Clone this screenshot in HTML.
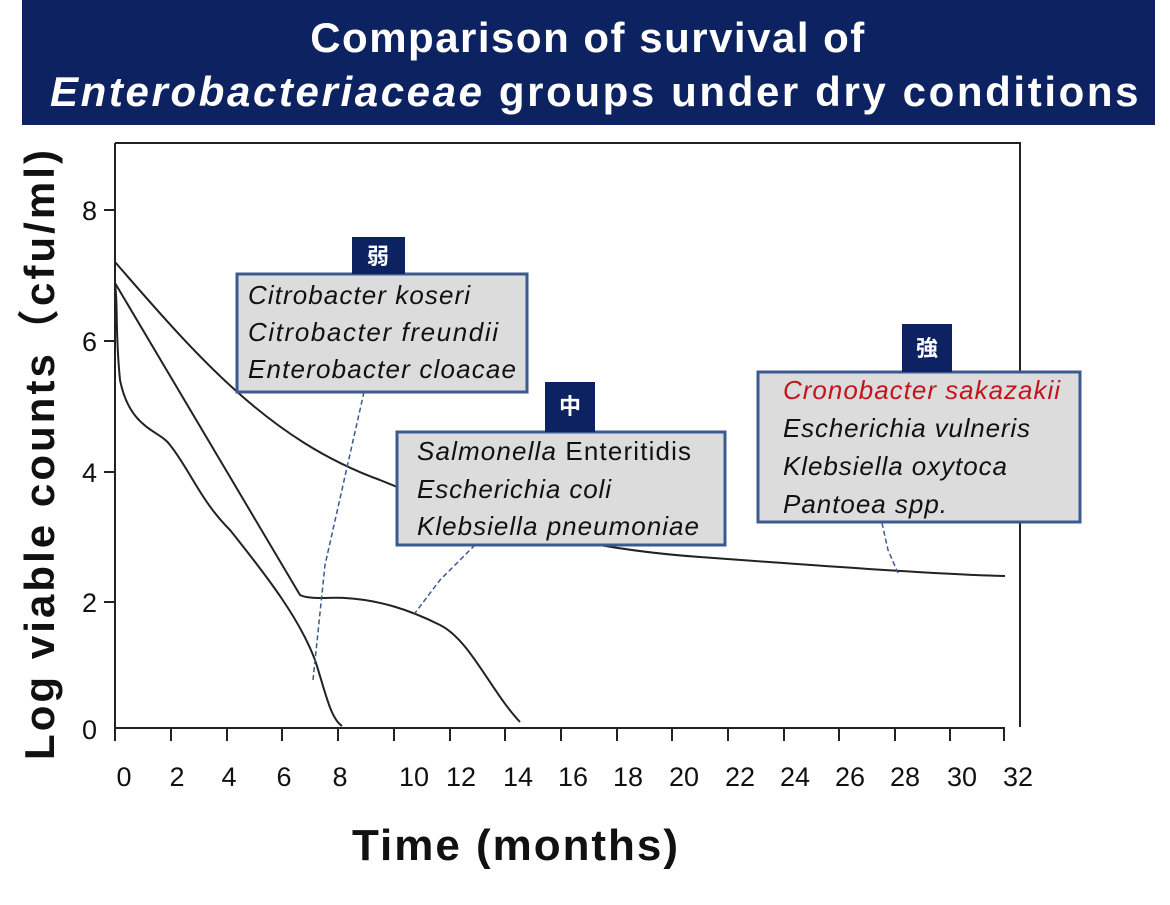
<!DOCTYPE html>
<html><head><meta charset="utf-8"><style>
html,body{margin:0;padding:0;background:#fff;}
</style></head><body>
<svg width="1170" height="900" viewBox="0 0 1170 900" xmlns="http://www.w3.org/2000/svg" font-family="'Liberation Sans','Noto Sans CJK JP',sans-serif">
<rect x="22" y="0" width="1133" height="125" fill="#0d2260"/>
<text x="588" y="52" text-anchor="middle" fill="#fff" font-size="42" font-weight="bold" letter-spacing="1.5">Comparison of survival of</text>
<text x="595" y="106" text-anchor="middle" fill="#fff" font-size="42" font-weight="bold" letter-spacing="1.5" textLength="1090"><tspan font-style="italic">Enterobacteriaceae</tspan> groups under dry conditions</text>
<g stroke="#222" stroke-width="2" fill="none">
<path d="M115 143 H1020 V727"/>
<path d="M115 143 V728 H1005"/>
<path d="M104 210H115M104 341H115M104 472H115M104 602H115"/>
<path d="M115 728v13M171 728v13M227 728v13M282 728v13M338 728v13M394 728v13M450 728v13M505 728v13M561 728v13M617 728v13M672 728v13M728 728v13M784 728v13M839 728v13M895 728v13M950 728v13M1004 728v13"/>
</g>
<g font-size="27" fill="#111" text-anchor="middle">
<text x="97" y="220" text-anchor="end">8</text><text x="97" y="351" text-anchor="end">6</text><text x="97" y="482" text-anchor="end">4</text><text x="97" y="612" text-anchor="end">2</text><text x="97" y="739" text-anchor="end">0</text>
<text x="124" y="786">0</text><text x="177" y="786">2</text><text x="229" y="786">4</text><text x="284" y="786">6</text><text x="340" y="786">8</text><text x="414" y="786">10</text><text x="461" y="786">12</text><text x="518" y="786">14</text><text x="573" y="786">16</text><text x="628" y="786">18</text><text x="684" y="786">20</text><text x="740" y="786">22</text><text x="795" y="786">24</text><text x="850" y="786">26</text><text x="905" y="786">28</text><text x="962" y="786">30</text><text x="1018" y="786">32</text>
</g>
<text x="515" y="860" text-anchor="middle" font-size="44" font-weight="bold" fill="#111" textLength="326">Time (months)</text>
<text transform="translate(54,455) rotate(-90)" text-anchor="middle" font-size="42" font-weight="bold" fill="#111" textLength="610">Log viable counts（cfu/ml)</text>
<g stroke="#222" stroke-width="2" fill="none">
<path d="M115 262 C200 360 270 440 380 480 C500 530 600 550 700 557 C850 568 950 575 1005 576"/>
<path d="M115 283 L300 595 C310 600 330 597 345 598 C380 600 410 610 440 625 C470 640 490 690 520 722"/>
<path d="M115 285 C118 300 115 330 120 380 C130 430 160 430 170 445 C190 470 200 500 230 530 C270 580 300 620 315 660 C325 690 330 718 342 726"/>
</g>
<g stroke="#3b5a8f" stroke-width="1.5" stroke-dasharray="5,3" fill="none">
<path d="M364 392 L325 565 L313 680"/>
<path d="M475 545 L440 580 L412 617"/>
<path d="M882 523 L888 550 L898 573"/>
</g>
<g stroke="#3b5a8f" stroke-width="3" fill="#dcdcdc">
<rect x="237" y="274" width="290" height="118"/>
<rect x="397" y="432" width="328" height="113"/>
<rect x="758" y="372" width="322" height="150"/>
</g>
<g fill="#0d2260">
<rect x="352" y="237" width="53" height="37"/>
<rect x="545" y="382" width="50" height="50"/>
<rect x="902" y="324" width="50" height="48"/>
</g>
<g fill="#fff" font-size="22" font-weight="bold" text-anchor="middle">
<text x="378" y="264">弱</text><text x="570" y="414">中</text><text x="927" y="356">強</text>
</g>
<g font-size="26" font-style="italic" fill="#111">
<text x="248" y="304" textLength="222">Citrobacter koseri</text>
<text x="248" y="341" textLength="250">Citrobacter freundii</text>
<text x="248" y="378" textLength="268">Enterobacter cloacae</text>
<text x="417" y="460" textLength="274">Salmonella <tspan font-style="normal">Enteritidis</tspan></text>
<text x="417" y="498" textLength="194">Escherichia coli</text>
<text x="417" y="535" textLength="282">Klebsiella pneumoniae</text>
<text x="783" y="399" fill="#c0161c" textLength="277">Cronobacter sakazakii</text>
<text x="783" y="437" textLength="247">Escherichia vulneris</text>
<text x="783" y="475" textLength="224">Klebsiella oxytoca</text>
<text x="783" y="513" textLength="164">Pantoea spp.</text>
</g>
</svg>
</body></html>
